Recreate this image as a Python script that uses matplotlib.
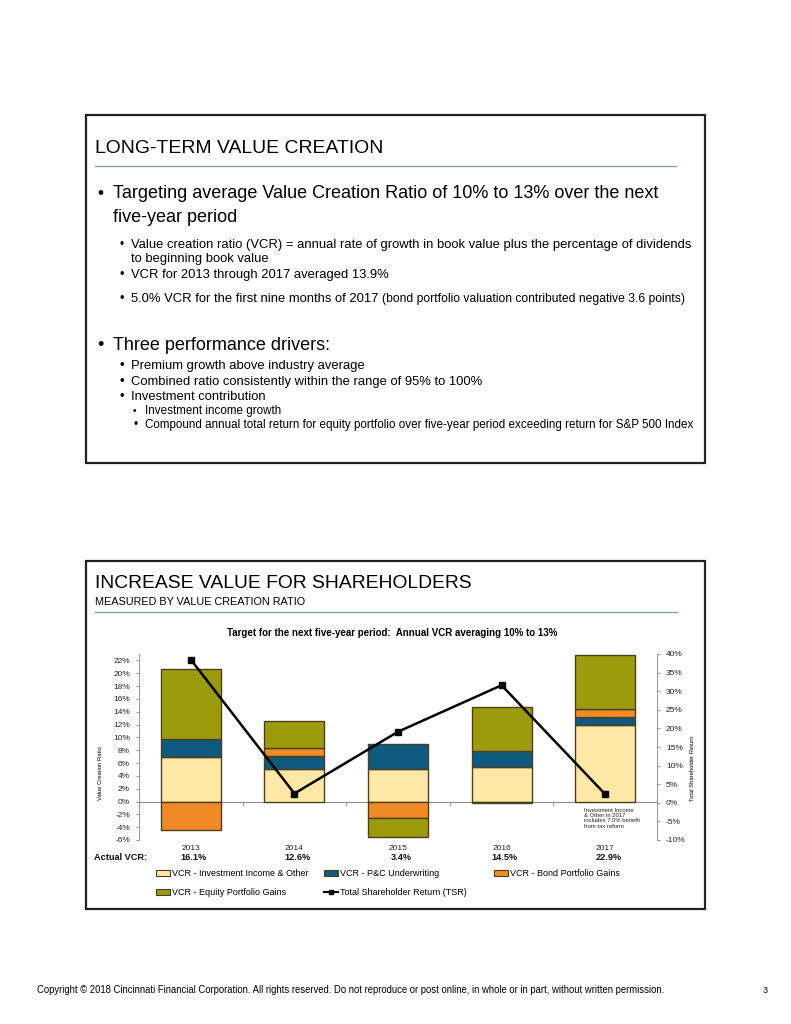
import matplotlib
matplotlib.use('Agg')
import matplotlib.pyplot as plt
from matplotlib.patches import Rectangle, Patch
from matplotlib.lines import Line2D
import numpy as np

# ---------------- data ----------------
years = ['2013', '2014', '2015', '2016', '2017']
vcr_investment = [7.0, 5.0, 5.1, 5.4, 12.0]
vcr_pc = [2.7, 2.1, 3.8, 2.5, 1.2]
vcr_bond = [-4.4, 1.2, -2.6, -0.2, 1.2]
vcr_equity = [10.9, 4.3, -2.9, 6.8, 8.5]
tsr = [38.5, 2.5, 19.1, 31.6, 2.3]
actual_vcr = ['16.1%', '12.6%', '3.4%', '14.5%', '22.9%']
left_ticks = list(range(-6, 23, 2))
right_ticks = list(range(-10, 41, 5))

series_names = ['VCR - Investment Income & Other', 'VCR - P&C Underwriting',
                'VCR - Bond Portfolio Gains', 'VCR - Equity Portfolio Gains']
tsr_name = 'Total Shareholder Return (TSR)'
colors = ['#FFE8A6', '#0F5A7F', '#F28A26', '#9C9B0B']
edge = '#4a4020'

W, H = 791, 1024
plt.rcParams['font.family'] = ['Liberation Sans', 'DejaVu Sans']
fig = plt.figure(figsize=(W / 100, H / 100), dpi=100)
renderer = fig.canvas.get_renderer()


def fx(x):
    return x / W


def fy(y):
    return 1 - y / H


def ftext(x, y, s, size=8, width=None, **kw):
    kw.setdefault('va', 'baseline')
    kw.setdefault('ha', 'left')
    t = fig.text(fx(x), fy(y), s, fontsize=size, **kw)
    if width is not None:
        bb = t.get_window_extent(renderer)
        t.set_fontsize(size * width / bb.width)
    return t


# ---------------- panels ----------------
for (x0, y0, x1, y1) in [(86, 115, 705, 463), (86, 561, 705, 909)]:
    fig.patches.append(Rectangle((fx(x0), fy(y1)), fx(x1 - x0), (y1 - y0) / H,
                                 transform=fig.transFigure, fill=False,
                                 edgecolor='#222222', linewidth=1.6))

rule_col = '#86A4AE'
fig.add_artist(Line2D([fx(95), fx(676)], [fy(166), fy(166)], color=rule_col, lw=1.0,
                      transform=fig.transFigure))
fig.add_artist(Line2D([fx(95), fx(677)], [fy(612), fy(612)], color=rule_col, lw=1.0,
                      transform=fig.transFigure))

# ---------------- top panel text ----------------
ftext(95, 153, 'LONG-TERM VALUE CREATION', size=14, width=288)

big = 12.5
ftext(97, 198, '•', size=big)
t1 = ftext(113, 198, 'Targeting average Value Creation Ratio of 10% to 13% over the next',
           size=big, width=548)
big = t1.get_fontsize()
ftext(113, 222, 'five-year period', size=big)

sub = 8.3
ftext(119, 248, '•', size=sub)
t2 = ftext(131, 248, 'Value creation ratio (VCR) = annual rate of growth in book value plus the percentage of dividends',
           size=sub, width=559)
sub = t2.get_fontsize()
ftext(131, 262, 'to beginning book value', size=sub)
ftext(119, 278, '•', size=sub)
ftext(131, 278, 'VCR for 2013 through 2017 averaged 13.9%', size=sub)
ftext(119, 302, '•', size=sub)
t3 = ftext(131, 302, '5.0% VCR for the first nine months of 2017', size=sub)
bb3 = t3.get_window_extent(renderer)
ftext(bb3.x1 + 4, 302, '(bond portfolio valuation contributed negative 3.6 points)', size=7, width=303)

ftext(97, 350, '•', size=big)
ftext(113, 350, 'Three performance drivers:', size=big)
ftext(119, 369, '•', size=sub)
ftext(131, 369, 'Premium growth above industry average', size=sub)
ftext(119, 385, '•', size=sub)
ftext(131, 385, 'Combined ratio consistently within the range of 95% to 100%', size=sub)
ftext(119, 400, '•', size=sub)
ftext(131, 400, 'Investment contribution', size=sub)
ssub = 7.3
ftext(133, 414, '•', size=ssub)
t4 = ftext(145, 428, 'Compound annual total return for equity portfolio over five-year period exceeding return for S&P 500 Index',
           size=ssub, width=545)
ssub = t4.get_fontsize()
ftext(145, 414, 'Investment income growth', size=ssub)
ftext(133, 428, '•', size=ssub)

# ---------------- bottom panel text ----------------
ftext(95, 588, 'INCREASE VALUE FOR SHAREHOLDERS', size=14, width=378)
ftext(95, 605, 'MEASURED BY VALUE CREATION RATIO', size=8.5, width=210)
ftext(392, 636, 'Target for the next five-year period:  Annual VCR averaging 10% to 13%',
      size=7, ha='center', fontweight='bold')

ftext(37, 993, 'Copyright © 2018 Cincinnati Financial Corporation. All rights reserved. '
      'Do not reproduce or post online, in whole or in part, without written permission.',
      size=6.5, width=633)
ftext(763, 993, '3', size=6.5)

# ---------------- chart ----------------
ax = fig.add_axes([fx(139), fy(840), (657 - 139) / W, (840 - 654) / H])
x = np.arange(len(years))
bw = 0.58
pos_base = np.zeros(len(years))
neg_base = np.zeros(len(years))
for vals, col in zip([vcr_investment, vcr_pc, vcr_bond, vcr_equity], colors):
    v = np.array(vals)
    bottoms = np.where(v >= 0, pos_base, neg_base)
    ax.bar(x, v, bw, bottom=bottoms, color=col, edgecolor=edge, linewidth=1.0, zorder=2)
    pos_base = pos_base + np.where(v >= 0, v, 0)
    neg_base = neg_base + np.where(v < 0, v, 0)

ax.set_xlim(-0.5, len(years) - 0.5)
ax.set_ylim(-6, 23)
ax.set_yticks(left_ticks)
ax.set_yticklabels([f'{t}%' for t in left_ticks])
ax.spines['top'].set_visible(False)
ax.spines['right'].set_visible(False)
ax.spines['left'].set_color('#9a9a9a')
ax.spines['bottom'].set_position(('data', 0))
ax.spines['bottom'].set_color('#8a8a8a')
ax.spines['bottom'].set_zorder(1)
ax.set_xticks(x)
ax.set_xticklabels([])
ax.tick_params(axis='x', which='major', length=0)
ax.set_xticks(x[:-1] + 0.5, minor=True)
ax.tick_params(axis='x', which='minor', length=3, color='#8a8a8a', direction='out')
ax.tick_params(axis='y', length=2.5, color='#9a9a9a', labelsize=6, pad=4, labelcolor='#222222')
ax.patch.set_visible(False)

xtr = ax.get_xaxis_transform()
for xi, yr, av in zip(x, years, actual_vcr):
    ax.text(xi, -0.045, yr, transform=xtr, ha='center', va='center', fontsize=6, color='#222222')
    ax.text(xi + 0.03, -0.095, av, transform=xtr, ha='center', va='center', fontsize=6.6,
            fontweight='bold', color='#111111')
ax.text(-45 / 518, -0.095, 'Actual VCR:', transform=ax.transAxes, ha='left',
        va='center', fontsize=6.6, fontweight='bold', color='#111111')

ax.text(3.8, -1.0, 'Investment Income\n& Other in 2017\nincludes 7.0% benefit\nfrom tax reform',
        ha='left', va='top', fontsize=4.2, linespacing=1.05, color='#222222')

ax2 = ax.twinx()
ax2.plot(x, tsr, color='black', lw=1.8, marker='s', markersize=4.5, zorder=5)
ax2.set_ylim(-10, 40)
ax2.set_yticks(right_ticks)
ax2.set_yticklabels([f'{t}%' for t in right_ticks])
for s in ['top', 'left', 'bottom']:
    ax2.spines[s].set_visible(False)
ax2.spines['right'].set_color('#9a9a9a')
ax2.tick_params(axis='y', length=2.5, color='#9a9a9a', labelsize=6, pad=4, labelcolor='#222222')

ftext(101, 773, 'Value Creation Ratio', size=4.2, rotation=90, ha='center', va='center')
ftext(692, 768, 'Total Shareholder Return', size=4.2, rotation=90, ha='center', va='center')

# ---------------- legend (three columns) ----------------
handles = [Patch(facecolor=c, edgecolor=edge, linewidth=0.8) for c in colors]
tsr_handle = Line2D([], [], color='black', lw=1.5, marker='s', markersize=3.5)
columns = [([handles[0], handles[3]], [series_names[0], series_names[3]], 156),
           ([handles[1], tsr_handle], [series_names[1], tsr_name], 324),
           ([handles[2]], [series_names[2]], 494)]
for hs, ls, x0 in columns:
    fig.legend(hs, ls, loc='upper left', bbox_to_anchor=(fx(x0), fy(869)),
               ncol=1, frameon=False, fontsize=6.5, handlelength=1.6, handleheight=0.6,
               handletextpad=0.15, labelspacing=1.1, borderpad=0, borderaxespad=0)

fig.savefig('out.png', dpi=100)
